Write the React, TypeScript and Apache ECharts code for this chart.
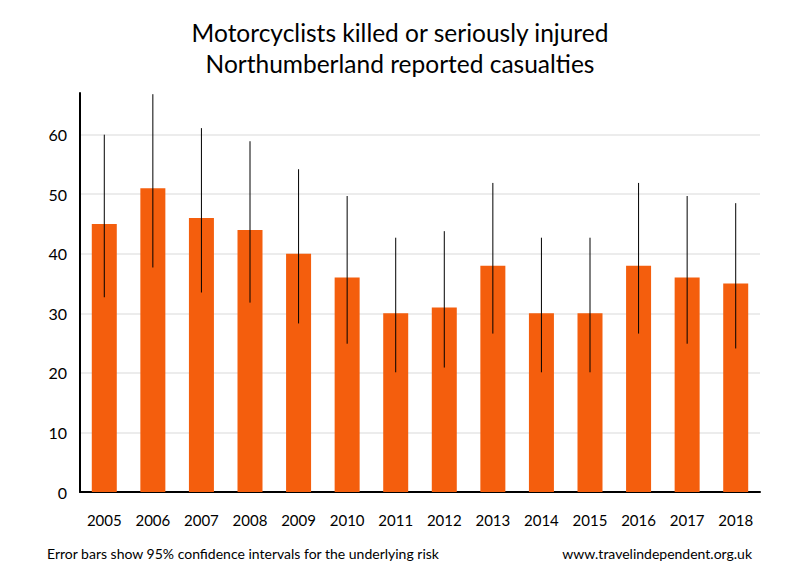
import React, { useEffect, useRef } from "react";
import * as echarts from "echarts";

const years = ["2005", "2006", "2007", "2008", "2009", "2010", "2011", "2012", "2013", "2014", "2015", "2016", "2017", "2018"];
const casualties = [45, 51, 46, 44, 40, 36, 30, 31, 38, 30, 30, 38, 36, 35];
const ciLow = [32.7, 37.7, 33.5, 31.8, 28.3, 24.9, 20.1, 20.9, 26.6, 20.1, 20.1, 26.6, 24.9, 24.1];
const ciHigh = [60.0, 66.8, 61.1, 58.9, 54.2, 49.7, 42.7, 43.8, 51.9, 42.7, 42.7, 51.9, 49.7, 48.5];

const FONT = "Lato";

export default function App() {
  const ref = useRef<HTMLDivElement>(null);
  useEffect(() => {
    if (!ref.current) return;
    const chart = echarts.init(ref.current, null, { renderer: "svg" });
    const errData = years.map((_, i) => [i, ciLow[i], ciHigh[i]]);
    chart.setOption({
      animation: false,
      backgroundColor: "#ffffff",
      title: {
        text: "Motorcyclists killed or seriously injured\nNorthumberland reported casualties",
        left: "center",
        top: 12,
        textStyle: { fontFamily: FONT, fontSize: 24.5, fontWeight: "normal", color: "#000", lineHeight: 31 },
      },
      grid: { left: 80, right: 40, top: 93, bottom: 88, containLabel: false },
      xAxis: {
        type: "category",
        data: years,
        axisLine: { show: true, lineStyle: { color: "#000", width: 2 } },
        axisTick: { show: false },
        axisLabel: { fontFamily: FONT, fontSize: 15, color: "#000", margin: 20 },
      },
      yAxis: {
        type: "value",
        min: 0,
        max: 67,
        interval: 10,
        axisLine: { show: true, lineStyle: { color: "#000", width: 2 } },
        axisTick: { show: false },
        axisLabel: { fontFamily: FONT, fontSize: 16, color: "#000", margin: 13, showMaxLabel: false },
        splitLine: { show: true, showMaxLine: false, showMinLine: false, lineStyle: { color: "#e6e6e6", width: 1.5 } },
      },
      series: [
        {
          type: "bar",
          data: casualties,
          barWidth: 25,
          itemStyle: { color: "#f45e0d" },
          z: 2,
        },
        {
          type: "custom",
          data: errData,
          z: 3,
          renderItem: (params: any, api: any) => {
            const i = api.value(0);
            const lo = api.coord([i, api.value(1)]);
            const hi = api.coord([i, api.value(2)]);
            return {
              type: "line",
              shape: { x1: lo[0], y1: lo[1], x2: hi[0], y2: hi[1] },
              style: { stroke: "#000", lineWidth: 1 },
            };
          },
        },
      ],
      graphic: [
        {
          type: "text",
          left: 47,
          top: 546,
          style: { text: "Error bars show 95% confidence intervals for the underlying risk", font: `14px ${FONT}`, fill: "#000" },
        },
        {
          type: "text",
          right: 48,
          top: 546,
          style: { text: "www.travelindependent.org.uk", font: `14px ${FONT}`, fill: "#000" },
        },
      ],
    });
    return () => chart.dispose();
  }, []);
  return <div ref={ref} style={{ width: 800, height: 580, position: "absolute", left: 0, top: 0 }} />;
}
